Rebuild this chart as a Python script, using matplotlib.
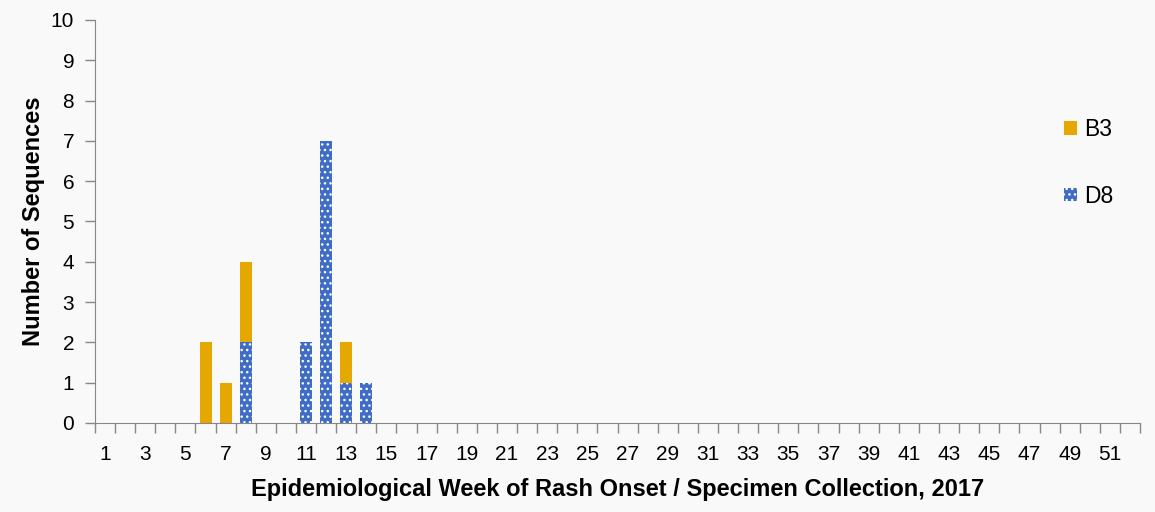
import matplotlib
matplotlib.use("Agg")
import matplotlib.pyplot as plt
import numpy as np

plt.rcParams['font.family'] = ['Liberation Sans', 'DejaVu Sans']
plt.rcParams['hatch.linewidth'] = 1.0

weeks = list(range(1, 53))
b3 = {6: 2, 7: 1, 8: 2, 13: 1}
d8 = {8: 2, 11: 2, 12: 7, 13: 1, 14: 1}
b3_vals = [b3.get(w, 0) for w in weeks]
d8_vals = [d8.get(w, 0) for w in weeks]
xtick_labels = [str(w) for w in range(1, 52, 2)]

col_b3 = '#E5A800'
col_d8 = '#3F6CC4'
bg = '#F9F9F9'

fig = plt.figure(figsize=(11.55, 5.12), dpi=100, facecolor=bg)
ax = fig.add_axes([95/1155, 1-423/512, (1140-95)/1155, (423-20)/512])
ax.set_facecolor(bg)

x = np.arange(len(weeks))
ax.bar(x, d8_vals, width=0.6, color=col_d8, edgecolor='white', hatch='...', linewidth=0, label='D8')
ax.bar(x, b3_vals, bottom=d8_vals, width=0.6, color=col_b3, linewidth=0, label='B3')

ax.set_xlim(-0.5, len(weeks) - 0.5)
ax.set_ylim(0, 10)
ax.set_yticks(range(0, 11))
ax.set_xticks(np.arange(0, 52, 2))
ax.set_xticklabels(xtick_labels)
ax.set_xticks(np.arange(-0.5, 52, 1), minor=True)
ax.tick_params(axis='x', which='major', length=0, labelsize=15, pad=16)
ax.tick_params(axis='x', which='minor', length=7, color='#888888', width=1)
ax.tick_params(axis='y', length=7, color='#888888', width=1, labelsize=15, pad=8)

for s in ['top', 'right']:
    ax.spines[s].set_visible(False)
for s in ['left', 'bottom']:
    ax.spines[s].set_color('#888888')

ax.set_xlabel('Epidemiological Week of Rash Onset / Specimen Collection, 2017', fontsize=17, fontweight='bold', labelpad=10)
ax.set_ylabel('Number of Sequences', fontsize=17, fontweight='bold', labelpad=4)

handles, labels = ax.get_legend_handles_labels()
leg = ax.legend(handles[::-1], labels[::-1], loc='upper left', bbox_to_anchor=((1064-95)/1045, (423-118)/403),
                frameon=False, fontsize=16.5, handlelength=0.55, handleheight=0.55,
                handletextpad=0.35, labelspacing=1.9, borderpad=0, borderaxespad=0)

fig.savefig('out.png', dpi=100, facecolor=bg)
